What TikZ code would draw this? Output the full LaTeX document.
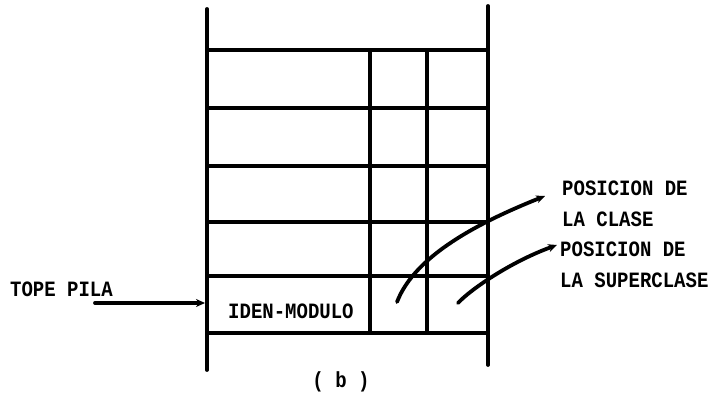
\documentclass[tikz,border=0pt]{standalone}
\usepackage{fontspec}
\setmonofont{Liberation Mono}
\usetikzlibrary{arrows.meta}

\begin{document}
\begin{tikzpicture}[x=1pt,y=1pt,line cap=round,
  wall/.style={line width=3.8pt},
  lbl/.style={font=\ttfamily\bfseries\fontsize{19}{27}\selectfont,inner sep=0pt,anchor=base west,align=left,yscale=1.15,transform shape},
  pointer/.style={line width=3.8pt,-{Stealth[length=9pt,width=8pt]}}]
\useasboundingbox (0,0) rectangle (726,399);
% stack frame
\draw[wall] (207,390) -- (207,29);
\draw[wall] (488,393) -- (488,34);
\foreach \y in {349,291,233,177,123,66}
  \draw[wall] (207,\y) -- (488,\y);
\foreach \x in {370,427}
  \draw[wall] (\x,349) -- (\x,66);
% texts
\node[lbl] (tope) at (10,102) {TOPE PILA};
\node[lbl] (iden) at (228,80) {IDEN-MODULO};
\node[lbl] (clase) at (562,172) {POSICION DE\\LA CLASE};
\node[lbl] (super) at (560,111) {POSICION DE\\LA SUPERCLASE};
\node[lbl,anchor=base] (cap) at (341,11) {( b )};
% pointers
\coordinate (topestart) at (95,96);
\coordinate (topeend) at (205,96);
\coordinate (clasefrom) at (397,97);
\coordinate (claseto) at (545,203);
\coordinate (superfrom) at (458,96);
\coordinate (superto) at (557,154);
\draw[pointer] (topestart) -- (topeend);
\draw[pointer] (clasefrom) .. controls (415,144) and (480,177) .. (claseto);
\draw[pointer] (superfrom) .. controls (470,109) and (510,137) .. (superto);
\end{tikzpicture}
\end{document}
